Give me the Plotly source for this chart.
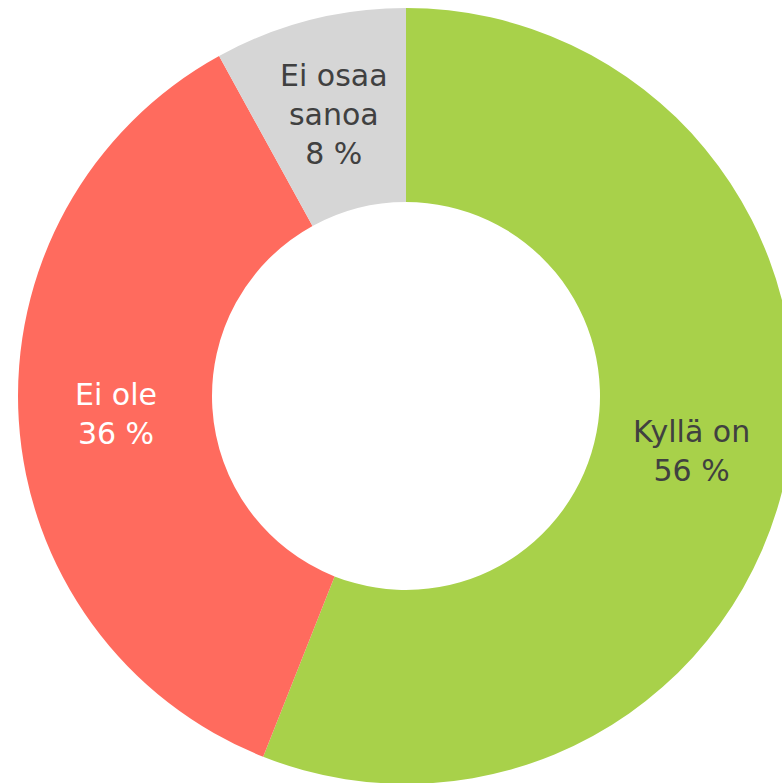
import math
import plotly.graph_objects as go

labels = ["Kyllä on", "Ei ole", "Ei osaa sanoa"]
display_labels = ["Kyllä on", "Ei ole", "Ei osaa<br>sanoa"]
values = [56, 36, 8]
colors = ["#A8D14A", "#FF6B5E", "#D6D6D6"]
text_colors = ["#404040", "#FFFFFF", "#404040"]

HOLE = 0.5
FONT = "DejaVu Sans"
FSIZE = 30

fig = go.Figure(go.Pie(
    labels=labels,
    values=values,
    textinfo="none",
    hole=HOLE,
    sort=False,
    direction="clockwise",
    rotation=0,
    marker=dict(colors=colors, line=dict(width=0)),
    showlegend=False,
    domain=dict(x=[0, 1], y=[0, 1]),
))

# Label positions derived from the slice values (mid-angle, mid-ring radius)
total = sum(values)
cum = 0
r_mid = 0.5 * (1 + HOLE) / 2
for lab, v, tc in zip(display_labels, values, text_colors):
    theta = 2 * math.pi * (cum + v / 2) / total
    cum += v
    fig.add_annotation(
        x=0.5 + r_mid * math.sin(theta),
        y=0.5 + r_mid * math.cos(theta),
        xref="paper", yref="paper",
        text=f"{lab}<br>{v} %",
        showarrow=False,
        xanchor="center", yanchor="middle",
        font=dict(family=FONT, size=FSIZE, color=tc),
    )

fig.update_layout(
    width=812,
    height=792,
    margin=dict(l=18, r=18, t=8, b=8),
    paper_bgcolor="white",
    plot_bgcolor="white",
)

fig.write_html(
    "out.html",
    config={"displayModeBar": False},
    post_script="document.body.style.margin='0';document.body.style.overflow='hidden';document.documentElement.style.overflow='hidden';",
)
